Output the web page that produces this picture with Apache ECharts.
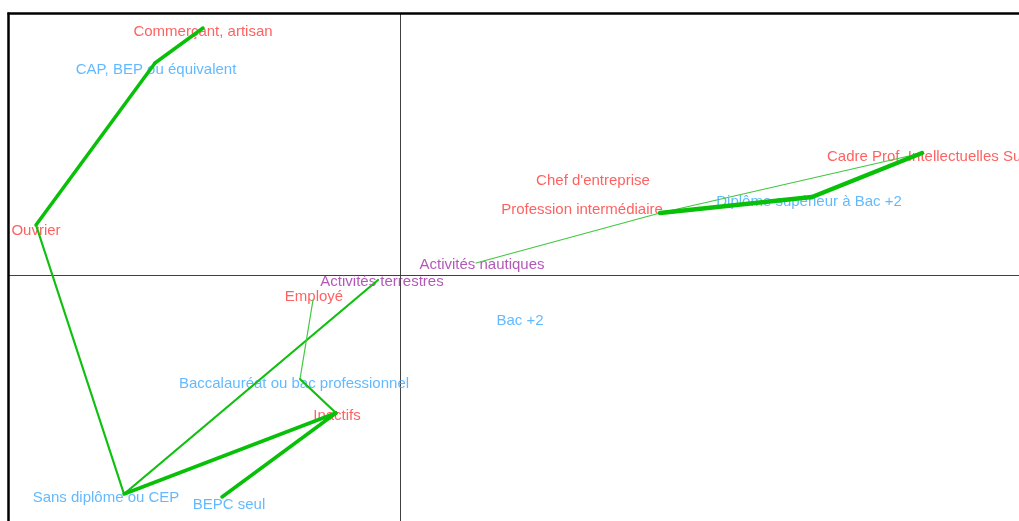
<!DOCTYPE html>
<html><head><meta charset="utf-8">
<script src="https://cdn.jsdelivr.net/npm/echarts@6/dist/echarts.min.js"></script>
<style>html,body{margin:0;padding:0;background:#fff}#c{width:1019px;height:521px}</style>
</head><body><div id="c"></div>
<script>
// Node coordinates on the factorial plane (axis 1, axis 2)
const nodeNames = ["Commerçant, artisan","CAP, BEP ou équivalent","Ouvrier","Sans diplôme ou CEP","Activités terrestres","Inactifs","BEPC seul","Baccalauréat ou bac professionnel","Employé","Activités nautiques","Profession intermédiaire","Diplôme supérieur à Bac +2","Cadre Prof. Intellectuelles Sup"];
const nodeX = [-1.97,-2.45,-3.64,-2.76,-0.22,-0.64,-1.78,-1.00,-0.87,0.76,2.60,4.12,5.22];
const nodeY = [2.47,2.12,0.50,-2.19,-0.05,-1.38,-2.22,-1.04,-0.25,0.12,0.62,0.78,1.22];

// Edges: [from, to, strength]
const edges = [
  ["Commerçant, artisan","CAP, BEP ou équivalent",3],
  ["CAP, BEP ou équivalent","Ouvrier",3],
  ["Ouvrier","Sans diplôme ou CEP",2],
  ["Sans diplôme ou CEP","Activités terrestres",2],
  ["Sans diplôme ou CEP","Inactifs",3],
  ["Inactifs","BEPC seul",3],
  ["Inactifs","Baccalauréat ou bac professionnel",2],
  ["Baccalauréat ou bac professionnel","Employé",1],
  ["Activités nautiques","Profession intermédiaire",1],
  ["Profession intermédiaire","Cadre Prof. Intellectuelles Sup",1],
  ["Profession intermédiaire","Diplôme supérieur à Bac +2",4],
  ["Diplôme supérieur à Bac +2","Cadre Prof. Intellectuelles Sup",4]
];

// Labels: text, group, label position on the plane
const labelTexts = ["Commerçant, artisan","CAP, BEP ou équivalent","Ouvrier","Chef d'entreprise","Profession intermédiaire","Cadre Prof. Intellectuelles Sup","Diplôme supérieur à Bac +2","Activités nautiques","Activités terrestres","Employé","Bac +2","Baccalauréat ou bac professionnel","Inactifs","Sans diplôme ou CEP","BEPC seul"];
const labelGroups = ["csp","dip","csp","csp","csp","csp","dip","act","act","csp","dip","dip","csp","dip","dip"];
const labelX = [-1.97,-2.44,-3.64,1.93,1.82,4.27,4.09,0.82,-0.18,-0.86,1.20,-1.06,-0.63,-2.94,-1.71];
const labelY = [2.45,2.07,0.46,0.96,0.67,1.20,0.75,0.12,-0.05,-0.20,-0.44,-1.07,-1.39,-2.21,-2.28];

const groupColor = {csp:'#ff3838', dip:'#3ca8ff', act:'#a02ea8'};
const widthOf = {1:1.2, 2:2.2, 3:3.5, 4:4.5};
const edgeColor = {1:'#40c840', 2:'#10c010', 3:'#08c008', 4:'#08c008'};

const idx = {}; nodeNames.forEach((n,i)=>idx[n]=i);
const lineData = edges.map(e=>({
  coords:[[nodeX[idx[e[0]]],nodeY[idx[e[0]]]],[nodeX[idx[e[1]]],nodeY[idx[e[1]]]]],
  lineStyle:{width:widthOf[e[2]], color:edgeColor[e[2]]}
}));
const labelData = labelTexts.map((t,i)=>({
  name:t, value:[labelX[i],labelY[i]],
  label:{color:groupColor[labelGroups[i]], align: t.startsWith('Cadre') ? 'left' : 'center'}
}));

const chart = echarts.init(document.getElementById('c'), null, {renderer:'canvas'});
chart.setOption({
  animation:false,
  backgroundColor:'#fff',
  grid:{left:9, top:14, right:0, bottom:0, show:false, containLabel:false},
  xAxis:{type:'value', min:-3.91, max:6.19, axisLine:{onZero:true, lineStyle:{color:'#404040', width:1}}, axisTick:{show:false}, axisLabel:{show:false}, splitLine:{show:false}},
  yAxis:{type:'value', min:-2.46, max:2.61, axisLine:{onZero:true, lineStyle:{color:'#404040', width:1}}, axisTick:{show:false}, axisLabel:{show:false}, splitLine:{show:false}},
  graphic:[
    {type:'line', z:100, shape:{x1:7.5, y1:13.5, x2:1019, y2:13.5}, style:{stroke:'#000', lineWidth:2.5}},
    {type:'line', z:100, shape:{x1:8.5, y1:12.5, x2:8.5, y2:521}, style:{stroke:'#000', lineWidth:2.5}}
  ],
  series:[
    {type:'scatter', z:2, symbolSize:1, itemStyle:{color:'rgba(0,0,0,0)'}, silent:true,
     label:{show:true, position:[0.5, 2.5], formatter:p=>p.name, fontFamily:'Liberation Sans, Arial, sans-serif', fontSize:15, verticalAlign:'middle'},
     labelLayout:{hideOverlap:false},
     data:labelData},
    {type:'lines', coordinateSystem:'cartesian2d', z:5, silent:true, polyline:false,
     lineStyle:{opacity:1, cap:'round', join:'round'}, data:lineData}
  ]
});
</script></body></html>
